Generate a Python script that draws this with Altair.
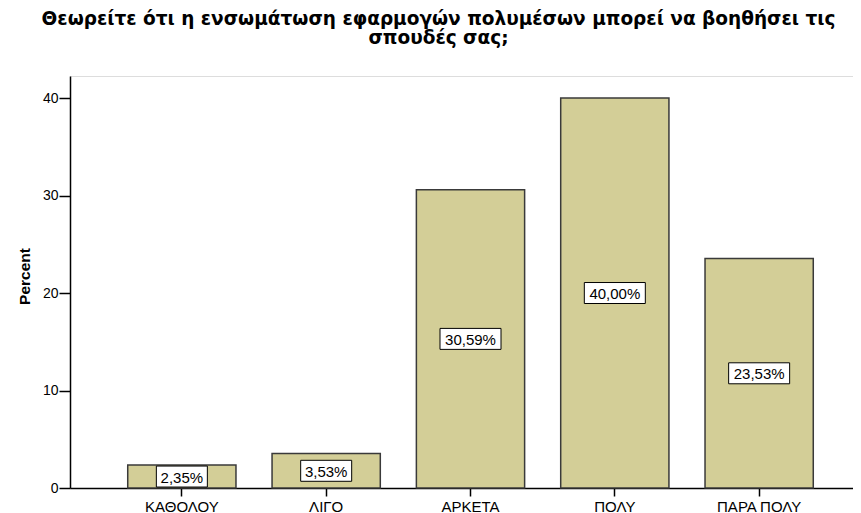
import altair as alt
import pandas as pd

categories = ["ΚΑΘΟΛΟΥ", "ΛΙΓΟ", "ΑΡΚΕΤΑ", "ΠΟΛΥ", "ΠΑΡΑ ΠΟΛΥ"]
percents = [2.35, 3.53, 30.59, 40.00, 23.53]
y_ticks = [0, 10, 20, 30, 40]
title_lines = ["Θεωρείτε ότι η ενσωμάτωση εφαρμογών πολυμέσων μπορεί να βοηθήσει τις",
               "σπουδές σας;"]

df = pd.DataFrame({"cat": categories, "pct": percents})

FONT = "Liberation Sans"

x_enc = alt.X("cat:N", sort=categories,
              scale=alt.Scale(paddingInner=0.25, paddingOuter=0.4),
              axis=alt.Axis(title=None, labelAngle=0, labelFont=FONT, labelFontSize=15,
                            labelColor="#000", tickColor="#000", domainColor="#000",
                            tickSize=8, tickWidth=1.5, domainWidth=1.5, labelPadding=3))
y_scale = alt.Scale(domain=[0, 42.26], nice=False, zero=True)

bars = alt.Chart(df).mark_bar(fill="#D3CE97", stroke="#3a3a3a", strokeWidth=1.5).encode(
    x=x_enc,
    y=alt.Y("pct:Q", scale=y_scale,
            axis=alt.Axis(title="Percent", values=y_ticks, grid=False, labelFont=FONT,
                          labelFontSize=14, labelColor="#000", tickColor="#000",
                          domainColor="#000", tickSize=11, tickWidth=1.5, domainWidth=1.5,
                          labelPadding=1, titleFont=FONT, titleFontSize=15.5,
                          titleFontWeight="bold", titleColor="#000", titleX=-46,
                          titleY=200, titleAlign="center", titleBaseline="middle",
                          titleAngle=270)),
)

path6 = "M-1,-0.344L1,-0.344L1,0.344L-1,0.344Z"
path5 = "M-0.836,-0.344L0.836,-0.344L0.836,0.344L-0.836,0.344Z"

base = alt.Chart(df).transform_calculate(
    label="replace(format(datum.pct, '.2f'), '.', ',') + '%'",
    mid="datum.pct / 2",
)

boxes = base.mark_point(filled=True, fill="white", stroke="#000", strokeWidth=1,
                        size=3721, opacity=1).encode(
    x=alt.X("cat:N", sort=categories),
    y=alt.Y("mid:Q", scale=y_scale),
    shape=alt.condition("length(datum.label) > 5", alt.value(path6), alt.value(path5)),
)

texts = base.mark_text(font=FONT, fontSize=15, color="#000", baseline="middle",
                       align="center", dy=1).encode(
    x=alt.X("cat:N", sort=categories),
    y=alt.Y("mid:Q", scale=y_scale),
    text="label:N",
)

chart = alt.layer(bars, boxes, texts).properties(
    width=801,
    height=412,
    title=alt.TitleParams(text=title_lines, font="DejaVu Sans", fontSize=18.5,
                          fontWeight="bold", color="#000", anchor="middle",
                          frame="group", dx=-32, offset=29, lineHeight=18.5),
    autosize=alt.AutoSizeParams(type="none"),
    padding={"left": 62, "top": 68, "right": -18, "bottom": 30},
).configure_view(
    fill="#F0F0F0", stroke="#8a8a8a", strokeWidth=1.5
).configure(background="white")

chart.save("out.html", embed_options={"renderer": "svg", "actions": False})
